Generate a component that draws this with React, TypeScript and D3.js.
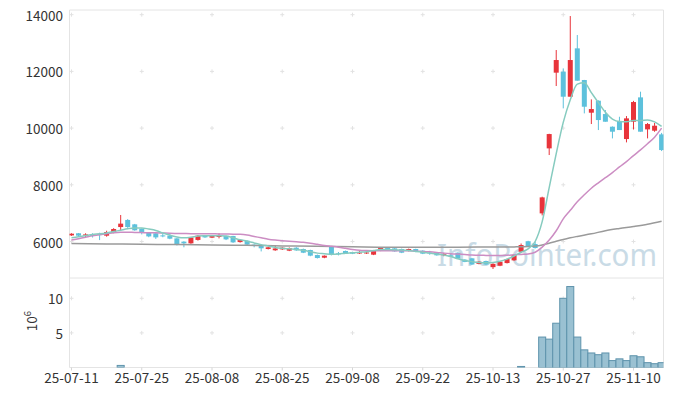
import * as d3 from "d3";

// trading days shown on the chart (yy-mm-dd)
const dates = [
  "25-07-11", "25-07-14", "25-07-15", "25-07-16", "25-07-17", "25-07-18", "25-07-21", "25-07-22", "25-07-23", "25-07-24",
  "25-07-25", "25-07-28", "25-07-29", "25-07-30", "25-07-31", "25-08-01", "25-08-04", "25-08-05", "25-08-06", "25-08-07",
  "25-08-08", "25-08-11", "25-08-12", "25-08-13", "25-08-14", "25-08-18", "25-08-19", "25-08-20", "25-08-21", "25-08-22",
  "25-08-25", "25-08-26", "25-08-27", "25-08-28", "25-08-29", "25-09-01", "25-09-02", "25-09-03", "25-09-04", "25-09-05",
  "25-09-08", "25-09-09", "25-09-10", "25-09-11", "25-09-12", "25-09-15", "25-09-16", "25-09-17", "25-09-18", "25-09-19",
  "25-09-22", "25-09-23", "25-09-24", "25-09-25", "25-09-26", "25-09-29", "25-09-30", "25-10-01", "25-10-02", "25-10-10",
  "25-10-13", "25-10-14", "25-10-15", "25-10-16", "25-10-17", "25-10-20", "25-10-21", "25-10-22", "25-10-23", "25-10-24",
  "25-10-27", "25-10-28", "25-10-29", "25-10-30", "25-10-31", "25-11-03", "25-11-04", "25-11-05", "25-11-06", "25-11-07",
  "25-11-10", "25-11-11", "25-11-12", "25-11-13", "25-11-14",
];

const open = [
  6215, 6290, 6210, 6265, 6260, 6205, 6310, 6510, 6760, 6605,
  6450, 6310, 6290, 6215, 6205, 6110, 5995, 5935, 6055, 6205,
  6135, 6170, 6195, 6195, 5980, 6030, 5890, 5840, 5735, 5690,
  5723, 5676, 5782, 5735, 5700, 5523, 5429, 5817, 5582, 5665,
  5629, 5600, 5600, 5535, 5676, 5770, 5758, 5735, 5664, 5735,
  5676, 5610, 5617, 5540, 5512, 5605, 5360, 5406, 5210, 5312,
  5095, 5145, 5240, 5335, 5640, 6010, 5910, 6992, 9285, 11955,
  11990, 11107, 12813, 11696, 10543, 10966, 10496, 10049, 10249, 9614,
  10225, 11084, 9955, 9908, 9779,
];
const high = [
  6290, 6300, 6290, 6290, 6310, 6380, 6470, 6935, 6790, 6620,
  6460, 6330, 6300, 6290, 6265, 6120, 6010, 6160, 6230, 6220,
  6210, 6290, 6210, 6200, 6070, 6040, 5900, 5850, 5810, 5876,
  5800, 5790, 5800, 5750, 5710, 5540, 5510, 5830, 5630, 5680,
  5640, 5660, 5680, 5690, 5790, 5785, 5770, 5750, 5750, 5745,
  5690, 5670, 5630, 5600, 5580, 5615, 5375, 5420, 5300, 5325,
  5230, 5300, 5395, 5540, 5930, 6025, 5990, 7580, 9800, 12754,
  12107, 13953, 13283, 11700, 11013, 10980, 10637, 10060, 10400, 10425,
  10960, 11284, 10180, 10180, 9830,
];
const low = [
  6200, 6170, 6160, 6140, 6050, 6170, 6290, 6395, 6480, 6380,
  6250, 6150, 6090, 6150, 6080, 5860, 5795, 5920, 6030, 6130,
  6120, 6110, 6050, 5950, 5960, 5870, 5795, 5650, 5720, 5670,
  5700, 5660, 5670, 5590, 5480, 5400, 5410, 5510, 5510, 5580,
  5555, 5560, 5560, 5520, 5660, 5675, 5640, 5590, 5650, 5625,
  5555, 5530, 5500, 5480, 5450, 5380, 5270, 5170, 5195, 5175,
  5030, 5130, 5225, 5320, 5600, 5800, 5750, 6920, 9050, 11484,
  10696, 11107, 11672, 10519, 10143, 9931, 10225, 9637, 9931, 9496,
  9955, 9873, 9637, 9870, 9190,
];
const close = [
  6275, 6205, 6250, 6195, 6230, 6335, 6440, 6630, 6510, 6395,
  6310, 6180, 6145, 6200, 6100, 5875, 5935, 6145, 6205, 6145,
  6195, 6195, 6075, 5970, 6055, 5890, 5855, 5760, 5795, 5755,
  5782, 5770, 5688, 5605, 5500, 5417, 5500, 5523, 5570, 5594,
  5570, 5612, 5612, 5676, 5770, 5688, 5653, 5605, 5735, 5641,
  5570, 5590, 5512, 5552, 5465, 5394, 5280, 5188, 5288, 5188,
  5212, 5288, 5382, 5522, 5875, 5840, 5770, 7556, 9790, 12401,
  11107, 12401, 11672, 10754, 10672, 10284, 10225, 9873, 9931, 10343,
  10919, 9873, 10143, 10084, 9226,
];

// volume, millions of shares
const volume = [
  0, 0, 0, 0, 0, 0, 0, 0.3, 0, 0,
  0, 0, 0, 0, 0, 0, 0, 0, 0, 0,
  0, 0, 0, 0, 0, 0, 0, 0, 0, 0,
  0, 0, 0, 0, 0, 0, 0, 0, 0, 0,
  0, 0, 0, 0, 0, 0, 0, 0, 0, 0,
  0, 0, 0, 0, 0, 0, 0, 0, 0, 0,
  0, 0, 0, 0, 0.15, 0, 0, 4.4, 4.1, 6.4,
  10.0, 11.7, 4.4, 2.55, 2.1, 1.85, 2.1, 1.0, 1.25, 1.0,
  1.7, 1.55, 0.7, 0.55, 0.7,
];

// moving averages
const ma5 = [
  6135, 6170, 6210, 6250, 6270, 6300, 6350, 6400, 6450, 6480,
  6480, 6440, 6390, 6300, 6220, 6160, 6130, 6150, 6190, 6200,
  6205, 6200, 6190, 6130, 6060, 6010, 5950, 5890, 5840, 5790,
  5760, 5740, 5720, 5690, 5640, 5590, 5570, 5550, 5560, 5585,
  5600, 5620, 5640, 5680, 5715, 5720, 5705, 5700, 5680, 5650,
  5620, 5590, 5560, 5520, 5470, 5390, 5330, 5290, 5260, 5250,
  5260, 5300, 5380, 5490, 5620, 5740, 6000, 6700, 7900, 9100,
  10200, 11000, 11550, 11600, 11250, 10900, 10560, 10320, 10230, 10220,
  10270, 10260, 10290, 10220, 10060,
];
const ma20 = [
  6050, 6100, 6150, 6200, 6240, 6270, 6310, 6330, 6330, 6320,
  6315, 6310, 6310, 6300, 6290, 6285, 6280, 6275, 6275, 6270,
  6270, 6268, 6265, 6260, 6255, 6230, 6180, 6130, 6080, 6050,
  6030, 6010, 5990, 5970, 5940, 5900, 5860, 5830, 5800, 5760,
  5720, 5690, 5680, 5675, 5675, 5675, 5675, 5675, 5670, 5660,
  5645, 5635, 5615, 5590, 5570, 5555, 5540, 5525, 5515, 5510,
  5505, 5505, 5515, 5530, 5545, 5560, 5620, 5800, 6050, 6380,
  6800, 7100, 7400, 7650, 7880, 8070, 8250, 8430, 8630, 8820,
  9030, 9230, 9450, 9680, 10000,
];
const longMaIdx = [0, 5, 10, 15, 20, 25, 30, 35, 40, 45, 50, 55, 60, 63, 65, 66, 67, 68, 69, 70, 71, 72, 74, 76, 78, 80, 82, 84];
const longMa = [5930, 5915, 5900, 5890, 5880, 5865, 5845, 5830, 5815, 5800, 5800, 5800, 5805, 5810, 5820, 5840, 5880, 5940, 6010, 6070, 6130, 6180, 6270, 6380, 6460, 6530, 6610, 6715];

const priceTicks = [6000, 8000, 10000, 12000, 14000];
const volTicks = [5, 10];
const dateTickIdx = [0, 10, 20, 30, 40, 50, 60, 70, 80];

const W = 673;
const H = 396;
const left = 69.5;
const right = 663.5;
const top = 10;
const split = 278;
const bottom = 367.5;

const UP = "#e8343b";
const DOWN = "#5dc1dc";
const FONT = "'Noto Sans CJK KR', 'Noto Sans', sans-serif";

export default function App() {
  const x = d3.scaleLinear().domain([0, 80]).range([71.5, 633.5]);
  const y = d3.scaleLinear().domain([6000, 14000]).range([241.5, 14.7]);
  const yv = d3.scaleLinear().domain([0, 10]).range([bottom, 298.3]);
  const step = x(1) - x(0);
  const bodyW = 5;

  const idx = d3.range(dates.length);
  const line = d3
    .line<[number, number]>()
    .x((d) => x(d[0]))
    .y((d) => y(d[1]))
    .curve(d3.curveMonotoneX);

  const grid = "#e2e2e2";
  const cross = (cx: number, cy: number, k: string) => (
    <g key={k} stroke={grid} strokeWidth={1}>
      <line x1={cx - 2} x2={cx + 2} y1={cy} y2={cy} />
      <line x1={cx} x2={cx} y1={cy - 2} y2={cy + 2} />
    </g>
  );

  return (
    <svg width={W} height={H} style={{ position: "absolute", left: 0, top: 0, background: "#fff" }}>
      <defs>
        <clipPath id="clipTop">
          <rect x={left} y={top} width={right - left} height={split - top} />
        </clipPath>
        <clipPath id="clipVol">
          <rect x={left} y={split} width={right - left} height={bottom - split} />
        </clipPath>
      </defs>

      {/* watermark */}
      <text
        x={437}
        y={266}
        fontFamily="'Noto Sans', sans-serif"
        fontSize={31}
        fill="#c9dbe6"
        textLength={220}
        lengthAdjust="spacingAndGlyphs"
      >
        InfoPointer.com
      </text>

      {/* frame */}
      <g stroke="#e4e4e4" strokeWidth={1} fill="none">
        <line x1={left} x2={right} y1={top} y2={top} />
        <line x1={right} x2={right} y1={top} y2={bottom} />
        <line x1={left} x2={right} y1={split} y2={split} />
        <line x1={left} x2={left} y1={top} y2={bottom} />
        <line x1={left} x2={right} y1={bottom} y2={bottom} />
      </g>

      {/* grid crosses */}
      {dateTickIdx.map((i) => priceTicks.map((v) => cross(x(i), y(v), `p${i}-${v}`)))}
      {dateTickIdx.map((i) => volTicks.map((v) => cross(x(i), yv(v), `v${i}-${v}`)))}
      {dateTickIdx.map((i) => (
        <line key={`t${i}`} x1={x(i)} x2={x(i)} y1={bottom} y2={bottom + 3} stroke="#d6d6d6" />
      ))}

      {/* candles */}
      <g clipPath="url(#clipTop)">
        {idx.map((i) => {
          const up = close[i] >= open[i];
          const c = up ? UP : DOWN;
          const yTop = y(Math.max(open[i], close[i]));
          const yBot = y(Math.min(open[i], close[i]));
          return (
            <g key={i}>
              <line x1={x(i)} x2={x(i)} y1={y(high[i])} y2={y(low[i])} stroke={c} strokeWidth={1} />
              <rect x={x(i) - bodyW / 2} y={yTop} width={bodyW} height={Math.max(1, yBot - yTop)} fill={c} />
            </g>
          );
        })}

        <path d={line(longMaIdx.map((i, k) => [i, longMa[k]] as [number, number])) || ""} fill="none" stroke="#9a9a9a" strokeWidth={1.5} />
        <path d={line(idx.map((i) => [i, ma20[i]] as [number, number])) || ""} fill="none" stroke="#cc8dc3" strokeWidth={1.5} />
        <path d={line(idx.map((i) => [i, ma5[i]] as [number, number])) || ""} fill="none" stroke="#86cbbf" strokeWidth={1.5} />
      </g>

      {/* volume */}
      <g clipPath="url(#clipVol)">
        {idx
          .filter((i) => volume[i] > 0)
          .map((i) => (
            <rect
              key={i}
              x={x(i) - step / 2}
              y={yv(volume[i])}
              width={step}
              height={yv(0) - yv(volume[i])}
              fill="#9ac1d2"
              stroke="#5e93ac"
              strokeWidth={1}
            />
          ))}
      </g>

      {/* axis labels */}
      <g fontFamily={FONT} fontSize={13.5} fill="#333">
        {priceTicks.map((v) => (
          <text key={v} x={63} y={y(v)} textAnchor="end" dominantBaseline="central">
            {v}
          </text>
        ))}
        {volTicks.map((v) => (
          <text key={v} x={63} y={yv(v)} textAnchor="end" dominantBaseline="central">
            {v}
          </text>
        ))}
        {dateTickIdx.map((i) => (
          <text key={i} x={x(i)} y={377} textAnchor="middle" dominantBaseline="central">
            {dates[i]}
          </text>
        ))}
        <text transform="translate(37,321) rotate(-90)" textAnchor="middle">
          10<tspan fontSize={9.5} dy={-6}>6</tspan>
        </text>
      </g>
    </svg>
  );
}
